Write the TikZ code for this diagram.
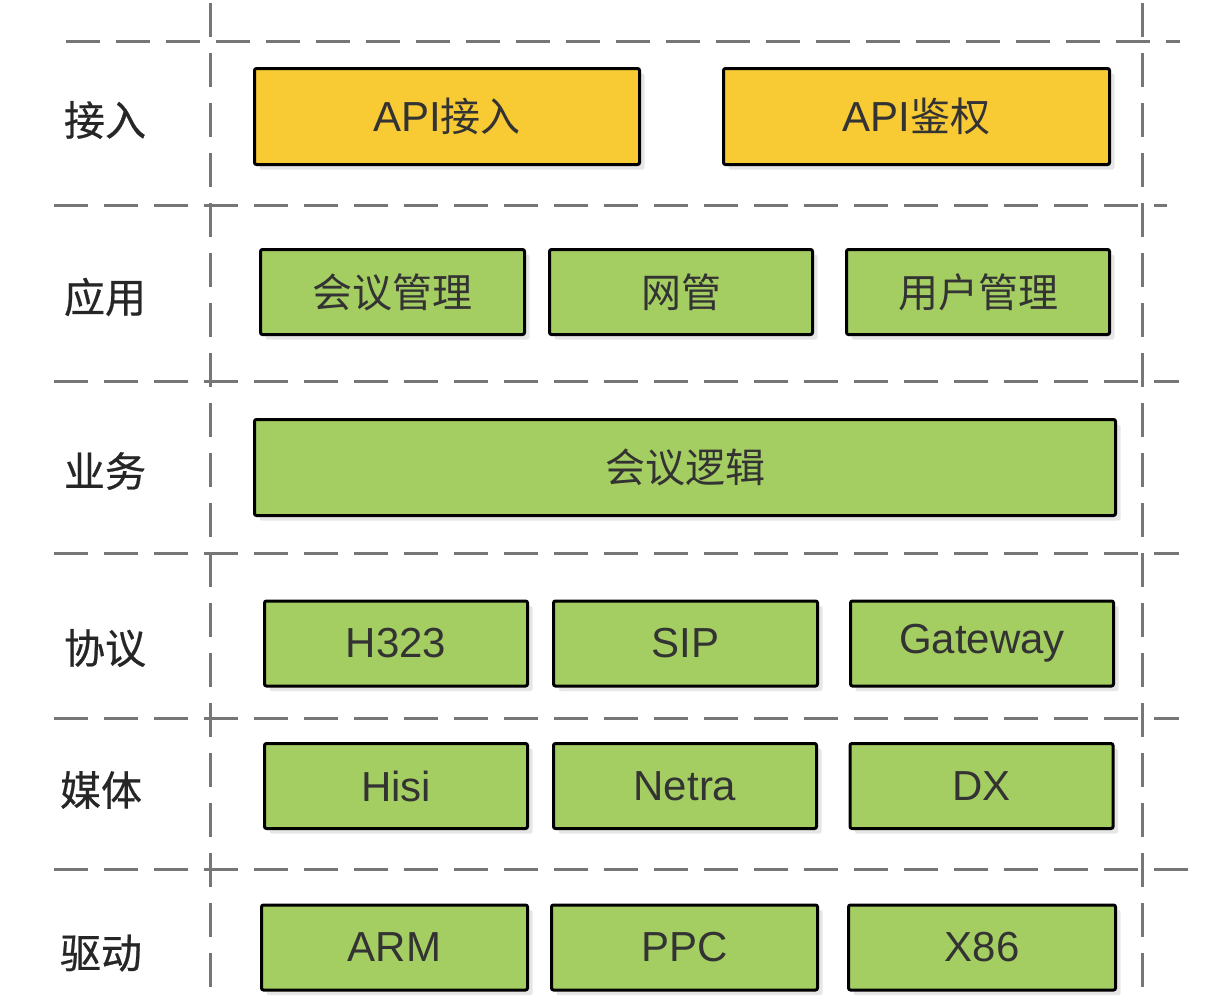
\documentclass[tikz,border=0pt]{standalone}
\usepackage{fontspec}
\setmainfont{Liberation Sans}
\newfontfamily\cjk{Noto Sans CJK SC}
\newfontfamily\cjklabel[FakeBold=0.6]{Noto Sans CJK SC}
\usetikzlibrary{shadows}
\definecolor{gridgray}{HTML}{767676}
\definecolor{boxyellow}{HTML}{F8CA33}
\definecolor{boxgreen}{HTML}{A5CE62}
\definecolor{txt}{HTML}{333333}
\definecolor{labeltxt}{HTML}{262626}
\definecolor{shadowgray}{HTML}{E6E6E6}
\newcommand{\cj}[1]{{\cjk\fontsize{40}{48}\selectfont #1}}
\tikzset{
  gridline/.style={draw=gridgray, line width=3pt, dash pattern=on 34pt off 16pt},
  layerbox/.style={draw=black, line width=3pt, rounded corners=2pt, text=txt,
    font=\fontsize{42}{50}\selectfont, inner sep=0pt,
    drop shadow={shadow xshift=5pt, shadow yshift=-5pt, fill=shadowgray, opacity=1}},
  ybox/.style={layerbox, fill=boxyellow},
  gbox/.style={layerbox, fill=boxgreen},
  layerlabel/.style={text=labeltxt, font=\cjklabel\fontsize{41}{48}\selectfont, inner sep=0pt},
}
\begin{document}
\begin{tikzpicture}[x=1pt,y=-1pt]
\useasboundingbox (0,0) rectangle (1207,1007);
% grid lines
\coordinate (h1a) at (66,41);   \coordinate (h1b) at (1180,41);
\coordinate (h2a) at (54,205);  \coordinate (h2b) at (1167,205);
\coordinate (h3a) at (54,381);  \coordinate (h3b) at (1179,381);
\coordinate (h4a) at (54,553);  \coordinate (h4b) at (1179,553);
\coordinate (h5a) at (54,718);  \coordinate (h5b) at (1179,718);
\coordinate (h6a) at (54,869);  \coordinate (h6b) at (1189,869);
\coordinate (v1a) at (210,3);   \coordinate (v1b) at (210,988);
\coordinate (v2a) at (1142,3);  \coordinate (v2b) at (1142,988);
\draw[gridline] (h1a) -- (h1b);
\draw[gridline] (h2a) -- (h2b);
\draw[gridline] (h3a) -- (h3b);
\draw[gridline] (h4a) -- (h4b);
\draw[gridline] (h5a) -- (h5b);
\draw[gridline] (h6a) -- (h6b);
\draw[gridline] (v1a) -- (v1b);
\draw[gridline] (v2a) -- (v2b);
% layer labels
\node[layerlabel] (l1) at (105,120) {接入};
\node[layerlabel] (l2) at (105,297) {应用};
\node[layerlabel] (l3) at (105,471) {业务};
\node[layerlabel] (l4) at (105,648) {协议};
\node[layerlabel] (l5) at (101,790) {媒体};
\node[layerlabel] (l6) at (101,953) {驱动};
% row 1
\node[ybox, minimum width=385pt, minimum height=96pt] (apiin) at (447,116.5) {API\cj{接入}};
\node[ybox, minimum width=386pt, minimum height=96pt] (apiauth) at (916.5,116.5) {API\cj{鉴权}};
% row 2
\node[gbox, minimum width=264pt, minimum height=85pt] (mgmt) at (392.5,292) {\cj{会议管理}};
\node[gbox, minimum width=263pt, minimum height=85pt] (nm) at (681,292) {\cj{网管}};
\node[gbox, minimum width=263pt, minimum height=85pt] (user) at (978,292) {\cj{用户管理}};
% row 3
\node[gbox, minimum width=861pt, minimum height=96pt] (logic) at (685,467.5) {\cj{会议逻辑}};
% row 4
\node[gbox, minimum width=263pt, minimum height=85pt] (h323) at (396,643.5) {H323};
\node[gbox, minimum width=264pt, minimum height=85pt] (sip) at (685.5,643.5) {SIP};
\node[gbox, minimum width=263pt, minimum height=85pt] (gw) at (982,643.5) {Gateway};
% row 5
\node[gbox, minimum width=263pt, minimum height=85pt] (hisi) at (396,786) {Hisi};
\node[gbox, minimum width=263pt, minimum height=85pt] (netra) at (685,786) {Netra};
\node[gbox, minimum width=263pt, minimum height=85pt] (dx) at (981.5,786) {DX};
% row 6
\node[gbox, minimum width=266pt, minimum height=85pt] (arm) at (394.5,947.5) {ARM};
\node[gbox, minimum width=266pt, minimum height=85pt] (ppc) at (684.5,947.5) {PPC};
\node[gbox, minimum width=267pt, minimum height=85pt] (x86) at (982,947.5) {X86};
\end{tikzpicture}
\end{document}
